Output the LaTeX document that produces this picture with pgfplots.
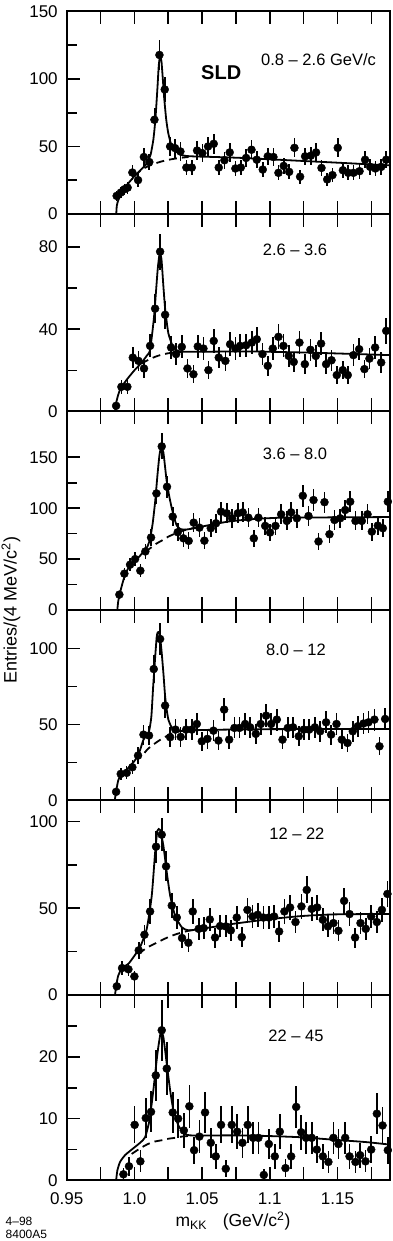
\documentclass[border=0pt]{standalone}
\usepackage{pgfplots}
\pgfplotsset{compat=1.18}
\usepackage{pgfplotstable}
\usepackage{fontspec}
\setmainfont{Liberation Sans}
\setsansfont{Liberation Sans}

% ---------------- data points: x  y ----------------
\pgfplotstableread{
x y
0.9869 13.4
0.9900 15.9
0.9926 18.3
0.9950 19.5
0.9985 30.7
1.0027 25.1
1.0070 42.2
1.0110 38.5
1.0148 69.8
1.0185 117.8
1.0224 92.2
1.0264 50.0
1.0300 48.8
1.0340 46.3
1.0384 34.4
1.0424 34.4
1.0463 47.0
1.0502 45.1
1.0544 50.0
1.0586 52.0
1.0623 34.4
1.0665 39.8
1.0704 45.6
1.0746 33.7
1.0786 34.4
1.0825 41.5
1.0865 47.6
1.0904 40.2
1.0948 32.9
1.0985 42.7
1.1027 42.2
1.1064 30.5
1.1103 35.6
1.1143 31.2
1.1182 49.0
1.1224 27.6
1.1261 42.7
1.1303 43.2
1.1342 45.6
1.1382 34.1
1.1424 25.6
1.1463 28.8
1.1502 49.0
1.1540 32.4
1.1579 30.5
1.1618 30.5
1.1663 31.7
1.1704 40.2
1.1741 34.9
1.1780 33.7
1.1823 34.9
1.1860 40.2
}\dataA
\pgfplotstableread{
x y
0.9866 0
0.9870 6
0.9880 10
0.9900 14
0.9950 22
1.0000 28
1.0050 33
1.0080 36
1.0100 39
1.0120 44
1.0140 55
1.0155 70
1.0170 93
1.0180 110
1.0190 117
1.0200 113
1.0210 100
1.0220 86
1.0235 70
1.0250 60
1.0270 52
1.0300 47
1.0340 44
1.0380 43
1.0450 42.6
1.0600 42.2
1.0800 41.5
1.1000 40.5
1.1200 39.5
1.1400 38.5
1.1600 37.5
1.1888 36
}\solidA
\pgfplotstableread{
x y
1.000 28
1.005 32.5
1.010 35.3
1.015 37.3
1.020 38.9
1.025 40.1
1.030 41.0
1.035 41.7
1.040 42.2
}\dashA

\pgfplotstableread{
x y
0.9865 2.75
0.9904 12.0
0.9948 12.0
0.9988 26.2
1.0030 24.6
1.0071 20.9
1.0116 31.9
1.0153 50.0
1.0190 77.7
1.0227 47.0
1.0271 31.1
1.0308 27.9
1.0350 31.4
1.0392 20.9
1.0436 18.1
1.0468 31.6
1.0510 30.6
1.0547 20.1
1.0586 34.3
1.0623 26.2
1.0672 24.6
1.0707 32.7
1.0746 30.6
1.0781 31.9
1.0825 32.2
1.0867 33.5
1.0904 35.1
1.0946 27.9
1.0985 22.2
1.1022 30.6
1.1064 36.3
1.1101 31.9
1.1140 27.0
1.1177 24.1
1.1219 33.5
1.1259 23.0
1.1300 30.0
1.1340 27.0
1.1379 33.0
1.1416 23.0
1.1456 24.9
1.1495 17.7
1.1539 20.1
1.1576 17.7
1.1618 27.4
1.1660 30.3
1.1699 20.6
1.1736 25.7
1.1778 31.1
1.1823 23.8
1.1860 39.2
}\dataB
\pgfplotstableread{
x y
0.9858 0
0.9865 4
0.9880 8
0.9900 11.5
0.9950 16
1.0000 20
1.0050 23.5
1.0090 27
1.0116 30
1.0145 46
1.0172 69
1.0187 77
1.0200 74
1.0213 62
1.0227 50
1.0251 38
1.0288 31
1.0330 29.3
1.0400 29
1.0800 29.2
1.1000 29
1.1300 28.6
1.1600 28
1.1888 27.4
}\solidB
\pgfplotstableread{
x y
1.005 23.2
1.010 25.0
1.015 26.5
1.020 27.6
1.025 28.3
1.030 28.7
1.035 28.9
}\dashB

\pgfplotstableread{
x y
0.9889 15.1
0.9926 35.7
0.9968 44.5
1.0005 50.0
1.0044 38.6
1.0081 57.5
1.0123 71.2
1.0163 114.5
1.0202 160.7
1.0241 121.0
1.0283 91.7
1.0320 76.4
1.0362 70.4
1.0401 67.9
1.0438 85.8
1.0480 80.9
1.0517 68.1
1.0564 80.3
1.0603 85.2
1.0640 96.6
1.0682 95.0
1.0722 90.1
1.0764 95.0
1.0800 95.9
1.0842 90.7
1.0882 70.4
1.0916 90.7
1.0966 82.6
1.1002 76.1
1.1042 82.6
1.1084 94.0
1.1126 87.5
1.1158 95.9
1.1200 90.1
1.1244 112.2
1.1286 92.3
1.1323 108.0
1.1360 67.3
1.1404 105.9
1.1441 74.4
1.1478 88.4
1.1520 90.1
1.1557 98.2
1.1594 106.4
1.1633 87.5
1.1680 87.5
1.1722 94.0
1.1754 77.0
1.1798 82.9
1.1835 80.3
1.1872 106.4
}\dataC
\pgfplotstableread{
x y
0.9874 0
0.9880 8
0.9890 15
0.9920 30
0.9950 40
1.0000 48
1.0040 53
1.0067 57.5
1.0095 62
1.0116 70
1.0135 85
1.0153 106
1.0170 132
1.0185 152
1.0198 160
1.0214 155
1.0227 140
1.0239 126
1.0257 112
1.0276 100
1.0295 90
1.0313 83
1.0340 79.5
1.0380 79
1.0450 80.5
1.0500 82
1.0700 87
1.0900 89.5
1.1100 90.7
1.1500 91
1.1888 91.3
}\solidC
\pgfplotstableread{
x y
1.008 57
1.012 61
1.016 65
1.020 68
1.025 72
1.030 75
1.035 77.5
1.040 79.5
1.045 80.8
}\dashC

\pgfplotstableread{
x y
0.9865 5.7
0.9899 17.5
0.9943 18.2
0.9985 21.9
1.0027 29.6
1.0067 43.4
1.0108 42.8
1.0143 86.6
1.0190 106.4
1.0227 62.5
1.0264 41.7
1.0303 46.7
1.0342 41.9
1.0382 46.7
1.0424 46.7
1.0461 50.4
1.0498 39.0
1.0539 40.6
1.0584 46.0
1.0621 39.5
1.0663 59.9
1.0700 40.1
1.0739 47.8
1.0776 47.8
1.0818 50.4
1.0855 48.2
1.0897 43.9
1.0933 50.4
1.0973 55.9
1.1010 50.4
1.1052 53.3
1.1094 40.1
1.1133 47.8
1.1172 48.2
1.1214 42.3
1.1251 46.7
1.1291 46.7
1.1333 48.2
1.1372 45.6
1.1416 51.5
1.1453 43.4
1.1493 50.4
1.1532 40.1
1.1574 37.9
1.1613 45.6
1.1650 48.9
1.1692 50.7
1.1729 51.5
1.1773 53.3
1.1810 35.7
1.1852 53.7
}\dataD
\pgfplotstableread{
x y
0.9855 0
0.9865 6
0.9880 13
0.9900 17
0.9950 21
1.0000 26
1.0030 30
1.0067 40
1.0105 44.5
1.0125 55
1.0140 77
1.0165 108
1.0180 111
1.0192 106
1.0202 97
1.0215 83
1.0227 68.6
1.0240 59
1.0251 53.3
1.0270 49
1.0288 46.7
1.0350 45.8
1.0400 46.2
1.0600 46.6
1.1000 47
1.1888 47.1
}\solidD
\pgfplotstableread{
x y
1.0075 31.4
1.010 34.0
1.015 37.5
1.020 40.5
1.025 43.0
1.030 44.8
1.035 45.8
1.040 46.2
}\dashD

\pgfplotstableread{
x y
0.9870 5.0
0.9909 15.5
0.9956 14.8
1.0000 10.7
1.0032 25.7
1.0074 34.7
1.0116 48.1
1.0160 85.4
1.0202 92.3
1.0234 74.1
1.0276 51.5
1.0313 44.6
1.0352 32.8
1.0399 30.1
1.0431 48.1
1.0475 38.1
1.0512 38.5
1.0557 43.5
1.0596 33.1
1.0633 39.7
1.0675 39.5
1.0712 37.2
1.0756 44.6
1.0793 33.3
1.0835 49.0
1.0872 45.2
1.0911 46.2
1.0953 44.6
1.0993 44.6
1.1032 45.2
1.1069 36.6
1.1108 48.1
1.1150 50.4
1.1190 42.0
1.1234 51.0
1.1273 60.5
1.1310 49.6
1.1350 50.4
1.1392 43.3
1.1429 39.5
1.1470 41.4
1.1507 37.0
1.1549 54.2
1.1589 46.6
1.1630 33.1
1.1670 41.4
1.1709 38.1
1.1749 45.2
1.1791 42.0
1.1828 49.0
1.1869 58.2
}\dataE
\pgfplotstableread{
x y
0.9857 0
0.9865 5
0.9880 11
0.9909 15.5
0.9956 18
0.9993 21.8
1.0042 27.6
1.0091 38
1.0128 57
1.0153 82
1.0170 94.6
1.0190 95
1.0214 86
1.0239 70.7
1.0264 57.3
1.0300 45.8
1.0350 39
1.0399 37.2
1.0485 38
1.0732 41
1.0978 43.5
1.1224 45.4
1.1470 46.4
1.1888 46.7
}\solidE
\pgfplotstableread{
x y
1.003 23.5
1.007 26.0
1.011 28.0
1.015 29.5
1.020 31.5
1.025 33.3
1.030 34.8
1.035 36.0
1.040 37.0
1.045 37.6
}\dashE

\pgfplotstableread{
x y
0.9919 1.0
0.9960 2.3
1.0002 9.0
1.0044 3.1
1.0084 10.1
1.0123 11.1
1.0158 17.0
1.0202 24.3
1.0239 18.1
1.0283 11.0
1.0323 10.0
1.0365 8.1
1.0406 12.0
1.0441 4.9
1.0480 7.1
1.0522 11.0
1.0564 6.1
1.0601 3.9
1.0640 9.0
1.0675 1.9
1.0719 9.0
1.0759 7.9
1.0798 6.1
1.0837 9.0
1.0877 6.9
1.0916 6.9
1.0956 0.9
1.0993 5.9
1.1037 3.9
1.1074 7.9
1.1116 2.0
1.1158 3.9
1.1195 11.9
1.1232 7.8
1.1268 6.9
1.1310 6.9
1.1347 5.0
1.1392 3.9
1.1433 3.0
1.1470 6.9
1.1507 5.9
1.1557 6.9
1.1589 3.9
1.1633 3.0
1.1667 4.1
1.1707 3.1
1.1749 5.0
1.1791 10.8
1.1833 8.9
1.1872 4.9
}\dataF
\pgfplotstableread{
x y
0.9865 0
0.9874 1.6
0.9894 3.0
0.9931 4.1
0.9980 5.0
1.0042 6.1
1.0079 7.0
1.0111 9.7
1.0140 14.6
1.0170 20.5
1.0195 24.0
1.0214 23.2
1.0239 18.9
1.0264 14.6
1.0288 11.4
1.0325 8.9
1.0362 7.8
1.0411 7.3
1.0732 7.3
1.0978 7.2
1.1224 7.0
1.1470 6.6
1.1717 6.2
1.1889 5.8
}\solidF
\pgfplotstableread{
x y
0.998 4.3
1.005 5.3
1.010 5.9
1.015 6.3
1.020 6.5
1.025 6.75
1.030 6.9
1.035 7.1
1.040 7.2
}\dashF

\pgfplotsset{
  panel/.style={
    scale only axis, width=323.3pt, anchor=south west,
    xmin=0.95, xmax=1.1888, ymin=0,
    xtick={0.95,0.975,1.0,1.025,1.05,1.075,1.1,1.125,1.15,1.175},
    xticklabels={},
    xtick pos=both, ytick pos=left, xticklabel pos=lower,
    tick align=inside,
    major tick length=13pt, minor tick length=10.5pt,
    tick style={black, line width=1.6pt},
    axis line style={line width=2pt},
    /pgf/number format/assume math mode=true,
    ticklabel style={font=\fontsize{17}{18}\selectfont},
    yticklabel style={xshift=-5.5pt},
    xticklabel style={yshift=-9pt},
    clip=false,
  },
  pts/.style={only marks, mark=*, mark size=4pt, black,
    error bars/.cd, y dir=both, y explicit, error mark=none,
    error bar style={line width=1.6pt, black}},
  fit/.style={black, line width=1.8pt, smooth, tension=0.35, no marks},
  bgd/.style={black, line width=1.8pt, dash pattern=on 8pt off 5pt, smooth, tension=0.5, no marks},
}
\tikzset{lab/.style={font=\fontsize{16.5}{18}\selectfont}}

\begin{document}
\begin{tikzpicture}
\useasboundingbox (0,0) rectangle (392pt,1241pt);

% Panel 1
\begin{axis}[panel, at={(66.7pt,1027pt)}, height=202.5pt, ymax=150,
  ytick={0,50,100,150}, minor ytick={25,75,125}]
  \addplot[pts] table[x=x, y=y, y error expr=sqrt(\thisrow{y})] {\dataA};
  \addplot[fit] table[x=x, y=y] {\solidA};
  \addplot[bgd] table[x=x, y=y] {\dashA};
  \node[lab] at (rel axis cs:0.779,0.76) {0.8 -- 2.6 GeV/c};
  \node[font=\fontsize{20}{22}\selectfont\bfseries] at (rel axis cs:0.478,0.70) {SLD};
\end{axis}

% Panel 2
\begin{axis}[panel, at={(66.7pt,829.5pt)}, height=197.5pt, ymax=96,
  ytick={0,40,80}, minor ytick={20,60}]
  \addplot[pts] table[x=x, y=y, y error expr=sqrt(\thisrow{y})] {\dataB};
  \addplot[fit] table[x=x, y=y] {\solidB};
  \addplot[bgd] table[x=x, y=y] {\dashB};
  \node[lab] at (rel axis cs:0.706,0.818) {2.6 -- 3.6};
\end{axis}

% Panel 3
\begin{axis}[panel, at={(66.7pt,631pt)}, height=198.5pt, ymax=195,
  ytick={0,50,100,150}, minor ytick={25,75,125}]
  \addplot[pts] table[x=x, y=y, y error expr=sqrt(\thisrow{y})] {\dataC};
  \addplot[fit] table[x=x, y=y] {\solidC};
  \addplot[bgd] table[x=x, y=y] {\dashC};
  \node[lab] at (rel axis cs:0.706,0.786) {3.6 -- 8.0};
\end{axis}

% Panel 4
\begin{axis}[panel, at={(66.7pt,440.5pt)}, height=190.5pt, ymax=125.5,
  ytick={0,50,100}, minor ytick={25,75}]
  \addplot[pts] table[x=x, y=y, y error expr=sqrt(\thisrow{y})] {\dataD};
  \addplot[fit] table[x=x, y=y] {\solidD};
  \addplot[bgd] table[x=x, y=y] {\dashD};
  \node[lab] at (rel axis cs:0.709,0.79) {8.0 -- 12};
\end{axis}

% Panel 5
\begin{axis}[panel, at={(66.7pt,246pt)}, height=194.5pt, ymax=112,
  ytick={0,50,100}, minor ytick={25,75}]
  \addplot[pts] table[x=x, y=y, y error expr=sqrt(\thisrow{y})] {\dataE};
  \addplot[fit] table[x=x, y=y] {\solidE};
  \addplot[bgd] table[x=x, y=y] {\dashE};
  \node[lab] at (rel axis cs:0.712,0.828) {12 -- 22};
\end{axis}

% Panel 6
\begin{axis}[panel, at={(66.7pt,60.5pt)}, height=185.5pt, ymax=30,
  ytick={0,10,20}, minor ytick={5,15,25},
  xticklabels={0.95,,1.0,,1.05,,1.1,,1.15,}]
  \addplot[pts] table[x=x, y=y, y error expr=sqrt(\thisrow{y})] {\dataF};
  \addplot[fit] table[x=x, y=y] {\solidF};
  \addplot[bgd] table[x=x, y=y] {\dashF};
  \node[lab] at (rel axis cs:0.709,0.779) {22 -- 45};
\end{axis}

\node[font=\fontsize{17.5}{19}\selectfont, anchor=base] at (233pt,14pt)
  {m\textsubscript{KK}\hspace{0.9em}(GeV/c\textsuperscript{2})};
\node[font=\fontsize{18}{20}\selectfont, rotate=90, anchor=center] at (11pt,631pt)
  {Entries/(4 MeV/c\textsuperscript{2})};
\node[font=\fontsize{12}{12.5}\selectfont, anchor=north west, align=left, inner sep=0pt] at (5.5pt,24pt)
  {4--98\\8400A5};
\end{tikzpicture}
\end{document}
